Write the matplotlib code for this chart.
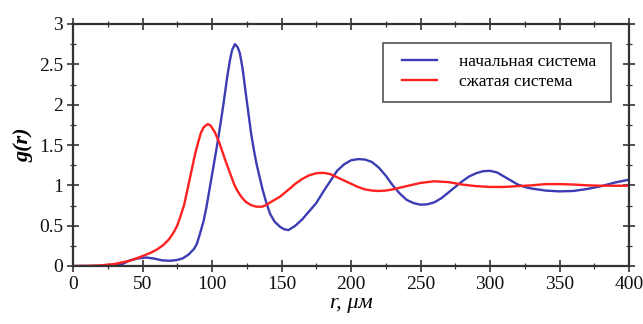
import matplotlib
matplotlib.use("Agg")
import matplotlib.pyplot as plt
from matplotlib.ticker import MultipleLocator
from matplotlib.patches import Rectangle

# --- data ---
r_blue = [0, 20, 30, 35, 41, 47, 53, 59, 64, 70, 75, 79, 83, 87, 89, 91, 94, 96, 98.5, 101, 103.5,
          106, 108.5, 111, 113, 114.5, 116.5, 118.5, 120, 122, 124, 126, 128, 130, 132, 134,
          136.5, 139, 141.7, 145, 149, 152, 155, 160, 165, 170, 175, 180, 185, 190, 195, 200,
          205, 210, 215, 220, 225, 230, 235, 240, 245, 250, 255, 260, 265, 270, 275, 280, 285,
          290, 295, 300, 305, 310, 315, 320, 325, 330, 340, 350, 360, 370, 380, 390, 400]
g_blue = [0.0, 0.0, 0.005, 0.02, 0.07, 0.095, 0.105, 0.09, 0.07, 0.065, 0.075, 0.095, 0.14, 0.21,
          0.27, 0.38, 0.56, 0.73, 0.98, 1.23, 1.48, 1.75, 2.04, 2.35, 2.56, 2.68, 2.75, 2.71,
          2.64, 2.45, 2.18, 1.92, 1.66, 1.45, 1.27, 1.12, 0.94, 0.79, 0.65, 0.55, 0.485, 0.455,
          0.445, 0.5, 0.58, 0.68, 0.78, 0.92, 1.05, 1.18, 1.26, 1.31, 1.325, 1.32, 1.29, 1.22,
          1.12, 1.0, 0.9, 0.82, 0.78, 0.76, 0.765, 0.79, 0.84, 0.91, 0.98, 1.05, 1.11, 1.15,
          1.175, 1.18, 1.16, 1.11, 1.06, 1.01, 0.98, 0.96, 0.935, 0.925, 0.93, 0.955, 0.99,
          1.035, 1.07]

r_red = [0, 10, 20, 30, 41, 48, 55, 60, 65, 69, 72, 75, 77, 80, 82, 84, 86, 88, 90, 92, 94, 97,
         99, 102, 105, 107, 110, 113, 116, 118, 121, 124, 128, 132, 136, 139, 143, 149, 156,
         160, 165, 170, 175, 180, 185, 190, 195, 200, 205, 210, 215, 220, 225, 230, 240, 250,
         260, 270, 280, 290, 300, 310, 320, 330, 340, 350, 360, 370, 380, 390, 400]
g_red = [0.0, 0.002, 0.008, 0.025, 0.066, 0.11, 0.157, 0.2, 0.26, 0.33, 0.405, 0.5, 0.6, 0.76,
         0.92, 1.08, 1.24, 1.4, 1.53, 1.65, 1.72, 1.76, 1.74, 1.66, 1.54, 1.44, 1.29, 1.15, 1.01,
         0.94, 0.86, 0.8, 0.755, 0.735, 0.735, 0.756, 0.8, 0.86, 0.96, 1.02, 1.08, 1.125, 1.15,
         1.155, 1.14, 1.1, 1.06, 1.02, 0.98, 0.95, 0.935, 0.93, 0.935, 0.95, 0.99, 1.03, 1.05,
         1.04, 1.01, 0.99, 0.98, 0.98, 0.99, 1.0, 1.015, 1.015, 1.01, 1.0, 0.995, 0.995, 0.995]

labels = ["начальная система", "сжатая система"]
colors = ["#3c3cb4", "#ff2020"]

plt.rcParams['font.family'] = ['Liberation Serif', 'DejaVu Serif']

W, H = 643, 324
x0, x1, y0, y1 = 73, 629, 24, 266  # axes box in pixels
fig = plt.figure(figsize=(W / 100, H / 100), dpi=100)
ax = fig.add_axes([x0 / W, 1 - y1 / H, (x1 - x0) / W, (y1 - y0) / H])

ax.plot(r_blue, g_blue, color=colors[0], lw=1.7, label=labels[0])
ax.plot(r_red, g_red, color=colors[1], lw=1.7, label=labels[1])

ax.set_xlim(0, 400)
ax.set_ylim(0, 3)
ax.xaxis.set_major_locator(MultipleLocator(50))
ax.xaxis.set_minor_locator(MultipleLocator(25))
ax.yaxis.set_minor_locator(MultipleLocator(0.25))
ax.set_yticks([0, 0.5, 1, 1.5, 2, 2.5, 3])
ax.set_yticklabels(["0", "0.5", "1", "1.5", "2", "2.5", "3"])

ax.tick_params(which='both', direction='inout', top=True, right=True, color='#333333')
ax.tick_params(which='major', length=8, width=1.2, labelsize=14, labelcolor='#111111', pad=3)
ax.tick_params(which='minor', length=5, width=0.9)
for sp in ax.spines.values():
    sp.set_linewidth(1.6)
    sp.set_color('#333333')

ax.set_xlabel("r, μм", fontsize=16, style='italic', labelpad=1)
ax.set_ylabel("g(r)", fontsize=16, style='italic', fontweight='bold', labelpad=4)

def ax_x(px):
    return (px - x0) / (x1 - x0)

def ax_y(py):
    return (y1 - py) / (y1 - y0)

# legend frame
lx0, lx1, ly0, ly1 = 383, 611, 43, 102
ax.add_patch(Rectangle((ax_x(lx0), ax_y(ly1)), ax_x(lx1) - ax_x(lx0), ax_y(ly0) - ax_y(ly1),
                       transform=ax.transAxes, facecolor='white', edgecolor='#444444',
                       lw=1.1, zorder=4))
leg = ax.legend(loc='upper left', bbox_to_anchor=(ax_x(402), ax_y(54)), borderaxespad=0,
                borderpad=0, frameon=False, fontsize=12.5,
                handlelength=2.0, labelspacing=0.2, handletextpad=1.3)
leg.set_zorder(5)

fig.savefig("out.png", dpi=100)
